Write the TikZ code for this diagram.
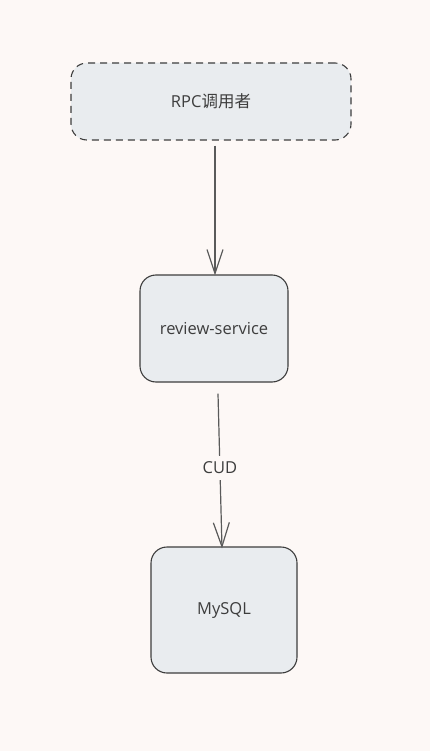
\documentclass[tikz,border=0pt]{standalone}
\usepackage{fontspec}
\setmainfont{Open Sans}
\newfontfamily\cjk{Noto Sans CJK SC}
\usetikzlibrary{arrows.meta,calc}
\definecolor{paper}{HTML}{FDF8F6}
\definecolor{boxfill}{HTML}{E9ECEF}
\definecolor{boxline}{HTML}{3D3D3D}
\definecolor{arrowline}{HTML}{5A5A5A}
\tikzset{
  box/.style={draw=boxline,fill=boxfill,line width=1.1pt,rounded corners=16pt,
    align=center,text=boxline,font=\fontsize{16.5}{18}\selectfont},
  flow/.style={draw=arrowline,line width=1.2pt,-{Straight Barb[length=24pt,width=16pt,line width=1.2pt]}},
}
\begin{document}
\begin{tikzpicture}[x=1pt,y=-1pt]
  %BACKGROUND
  \fill[paper] (0,0) rectangle (430,751);
  \useasboundingbox (0,0) rectangle (430,751);
  %NODES
  \node[box,dashed,dash pattern=on 7pt off 5pt,minimum width=280pt,minimum height=77pt] (caller) at (211,101.5) {RPC{\cjk 调用者}};
  \node[box,minimum width=148pt,minimum height=107pt] (review) at (214,328.5) {review-service};
  \node[box,minimum width=146pt,minimum height=126pt] (mysql) at (224,610) {MySQL};
  %ARROWS
  \draw[flow] ([xshift=4pt,yshift=-5pt]caller.south) -- ([xshift=1pt,yshift=-1pt]review.north);
  \draw[flow] ([xshift=4pt,yshift=-11pt]review.south) -- node[pos=0.48,fill=paper,text=boxline,inner sep=6pt,font=\fontsize{16.5}{18}\selectfont] (cud) {CUD} ([xshift=-2pt,yshift=-2pt]mysql.north);
\end{tikzpicture}
\end{document}
